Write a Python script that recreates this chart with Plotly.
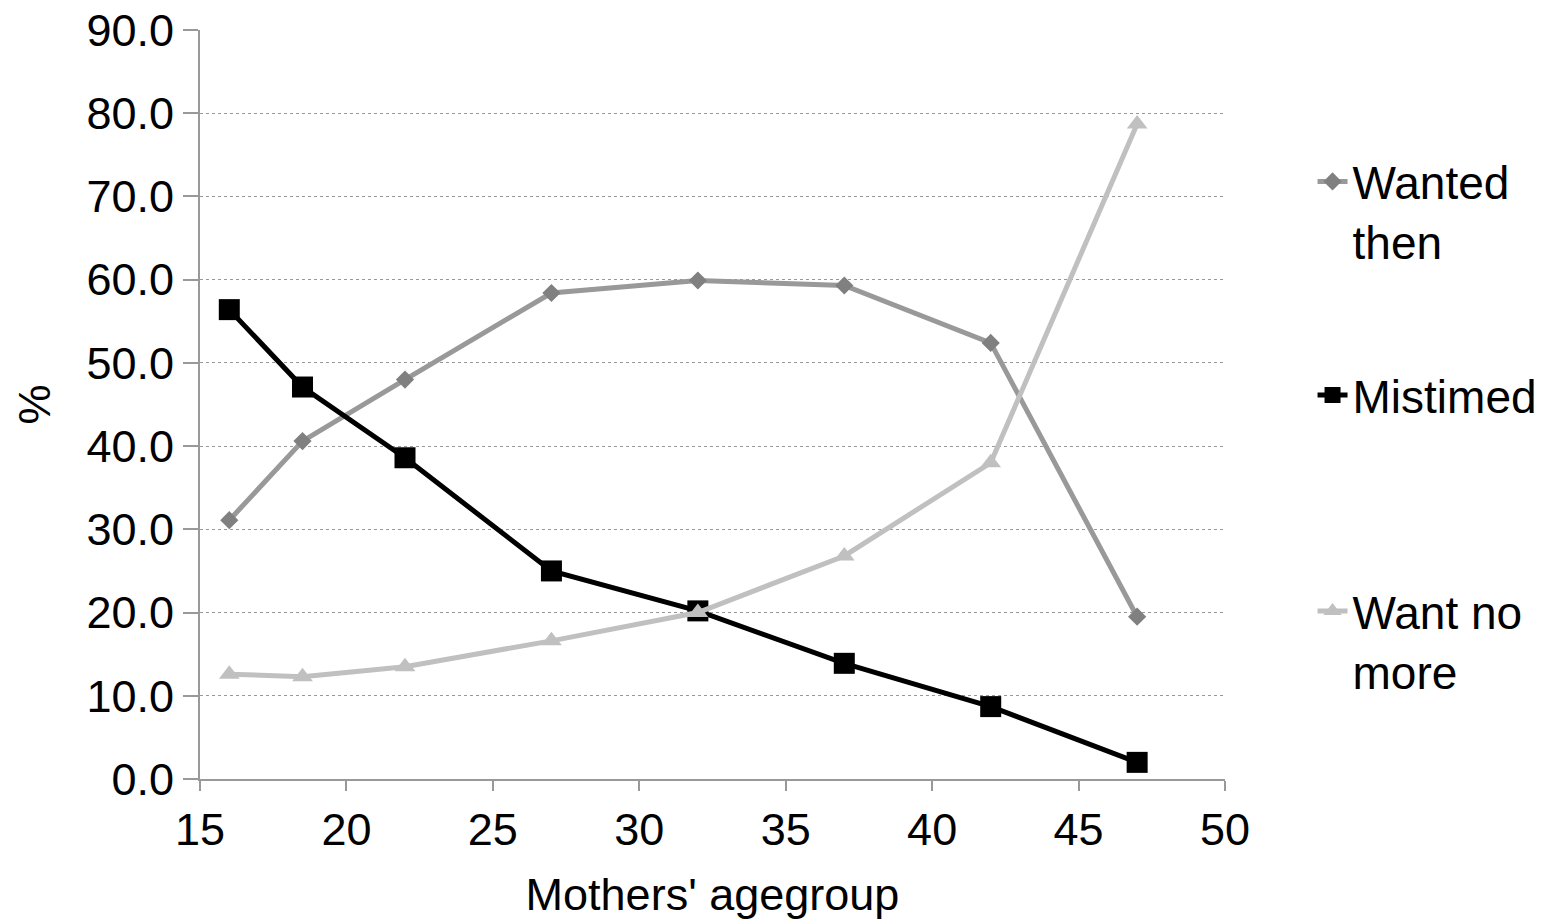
import plotly.graph_objects as go

ages = [16, 18.5, 22, 27, 32, 37, 42, 47]
wanted_then = [31.1, 40.6, 48.0, 58.4, 59.9, 59.3, 52.4, 19.5]
mistimed = [56.4, 47.1, 38.6, 25.0, 20.2, 13.9, 8.7, 2.0]
want_no_more = [12.6, 12.3, 13.5, 16.6, 20.0, 26.8, 38.0, 78.7]
x_ticks = [15, 20, 25, 30, 35, 40, 45, 50]
y_ticks = [0, 10, 20, 30, 40, 50, 60, 70, 80, 90]

FONT = "Liberation Sans, Arial, sans-serif"
FS = 45

fig = go.Figure()
fig.add_trace(go.Scatter(
    x=ages, y=wanted_then, name="Wanted<br>then", mode="lines+markers",
    line=dict(color="#999999", width=5),
    marker=dict(symbol="diamond", size=14, color="#808080"),
    legend="legend"))
fig.add_trace(go.Scatter(
    x=ages, y=mistimed, name="Mistimed", mode="lines+markers",
    line=dict(color="#000000", width=5),
    marker=dict(symbol="square", size=21, color="#000000"),
    legend="legend2"))
fig.add_trace(go.Scatter(
    x=ages, y=want_no_more, name="Want no<br>more", mode="lines+markers",
    line=dict(color="#c0c0c0", width=5),
    marker=dict(symbol="triangle-up", size=18, color="#c0c0c0"),
    legend="legend3"))

leg_common = dict(xanchor="left", yanchor="middle", valign="top",
                  font=dict(size=46, family=FONT, color="black"),
                  bgcolor="rgba(0,0,0,0)", itemwidth=30)

fig.update_layout(
    width=1558, height=923,
    margin=dict(l=200, r=333, t=30, b=144, autoexpand=False),
    paper_bgcolor="white", plot_bgcolor="white",
    font=dict(family=FONT, size=FS, color="black"),
    showlegend=True,
    legend=dict(x=1.0854, y=0.7577, **leg_common),
    legend2=dict(x=1.0854, y=0.5127, **leg_common),
    legend3=dict(x=1.0854, y=0.1842, **leg_common),
    xaxis=dict(range=[15, 50], tickvals=x_ticks, automargin=False,
               showgrid=False, showline=True, linecolor="#999999", linewidth=2,
               ticks="outside", ticklen=10, tickcolor="#999999", tickwidth=2,
               zeroline=False,
               title=dict(text="Mothers' agegroup", standoff=24,
                          font=dict(size=FS)),
               tickfont=dict(size=FS)),
    yaxis=dict(range=[0, 90], tickvals=y_ticks, automargin=False,
               ticktext=[f"{v:.1f}" for v in y_ticks],
               showgrid=True, gridcolor="#999999", griddash="dot", gridwidth=1,
               showline=True, linecolor="#999999", linewidth=2,
               ticks="outside", ticklen=15, tickcolor="#999999", tickwidth=2,
               zeroline=False,
               title=dict(text="%", standoff=22, font=dict(size=FS)),
               tickfont=dict(size=FS)),
)

fig.write_html("out.html")
